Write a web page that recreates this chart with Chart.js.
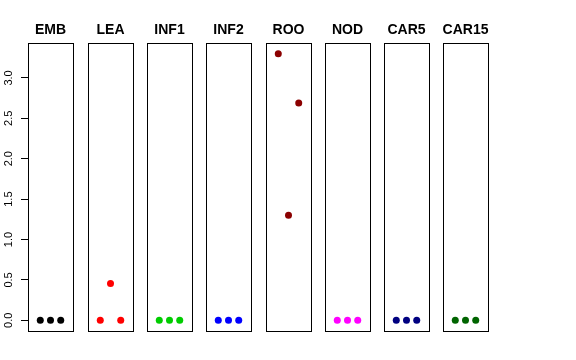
<!DOCTYPE html>
<html>
<head>
<meta charset="utf-8">
<script src="https://cdn.jsdelivr.net/npm/chart.js@4/dist/chart.umd.min.js"></script>
<style>
  html, body { margin: 0; padding: 0; background: #fff; }
  #wrap { position: relative; width: 576px; height: 360px; }
  canvas { position: absolute; left: 0; top: 0; }
</style>
</head>
<body>
<div id="wrap"></div>
<script>
// ---- data ----
const panelTitles = ["EMB", "LEA", "INF1", "INF2", "ROO", "NOD", "CAR5", "CAR15"];
const xPositions = [1, 2, 3];
const valuesEMB   = [0, 0, 0];
const valuesLEA   = [0, 0.455, 0];
const valuesINF1  = [0, 0, 0];
const valuesINF2  = [0, 0, 0];
const valuesROO   = [3.30, 1.30, 2.69];
const valuesNOD   = [0, 0, 0];
const valuesCAR5  = [0, 0, 0];
const valuesCAR15 = [0, 0, 0];
const panelColors = ["#000000", "#FF0000", "#00CD00", "#0000FF", "#8B0000", "#FF00FF", "#000080", "#006400"];
const yTickValues = [0, 0.5, 1.0, 1.5, 2.0, 2.5, 3.0];
const yTickLabels = ["0.0", "0.5", "1.0", "1.5", "2.0", "2.5", "3.0"];

const panelValues = [valuesEMB, valuesLEA, valuesINF1, valuesINF2, valuesROO, valuesNOD, valuesCAR5, valuesCAR15];

// ---- layout ----
const W = 576, H = 360;
const boxTop = 43, boxBottom = 331, boxWidth = 45;
const boxLefts = [28, 88, 147, 206, 266, 325, 384, 443];
const yMin = -0.132, yMax = 3.432;
const xMin = -0.2, xMax = 4.2;

const boxPlugin = {
  id: 'panelBox',
  afterDraw(chart, args, opts) {
    const { ctx, chartArea: a } = chart;
    ctx.save();
    ctx.strokeStyle = '#000';
    ctx.lineWidth = 1;
    const l = Math.round(a.left) + 0.5, t = Math.round(a.top) + 0.5;
    const r = Math.round(a.right) + 0.5, b = Math.round(a.bottom) + 0.5;
    ctx.strokeRect(l, t, r - l, b - t);
    // title
    ctx.fillStyle = '#000';
    ctx.font = 'bold 14px "Liberation Sans", Arial, sans-serif';
    ctx.textAlign = 'center';
    ctx.textBaseline = 'middle';
    ctx.fillText(opts.title, (a.left + a.right) / 2, 30);
    ctx.restore();
  }
};

const yLabelPlugin = {
  id: 'yLabels',
  afterDraw(chart) {
    const sc = chart.scales.y;
    if (!sc || !sc.options.display) return;
    const ctx = chart.ctx;
    ctx.save();
    ctx.fillStyle = '#000';
    ctx.font = '11px "Liberation Sans", Arial, sans-serif';
    ctx.textAlign = 'center';
    ctx.textBaseline = 'middle';
    yTickValues.forEach((v, i) => {
      const y = sc.getPixelForValue(v);
      ctx.save();
      ctx.translate(9, y);
      ctx.rotate(-Math.PI / 2);
      ctx.fillText(yTickLabels[i], 0, 0);
      ctx.restore();
    });
    ctx.restore();
  }
};

const wrap = document.getElementById('wrap');
panelTitles.forEach((title, i) => {
  const cv = document.createElement('canvas');
  cv.width = W; cv.height = H;
  cv.style.width = W + 'px'; cv.style.height = H + 'px';
  wrap.appendChild(cv);
  const first = i === 0;
  const left = boxLefts[i];
  new Chart(cv, {
    type: 'scatter',
    data: {
      datasets: [{
        data: xPositions.map((x, k) => ({ x: x, y: panelValues[i][k] })),
        backgroundColor: panelColors[i],
        borderWidth: 0,
        pointRadius: 3.5,
        pointHoverRadius: 3.5
      }]
    },
    options: {
      responsive: false,
      animation: false,
      events: [],
      layout: {
        padding: {
          left: first ? 0 : left,
          right: W - (left + boxWidth),
          top: boxTop,
          bottom: H - boxBottom
        }
      },
      plugins: {
        legend: { display: false },
        tooltip: { enabled: false },
        title: { display: false },
        panelBox: { title: title }
      },
      scales: {
        x: { type: 'linear', display: false, min: xMin, max: xMax },
        y: {
          type: 'linear',
          display: first,
          min: yMin, max: yMax,
          afterBuildTicks: (sc) => { sc.ticks = yTickValues.map(v => ({ value: v })); },
          afterFit: (sc) => { if (first) sc.width = left; },
          ticks: { display: false },
          border: { display: false },
          grid: { drawOnChartArea: false, drawTicks: true, tickLength: 7, color: '#000', lineWidth: 1 }
        }
      }
    },
    plugins: [boxPlugin, yLabelPlugin]
  });
});
</script>
</body>
</html>
